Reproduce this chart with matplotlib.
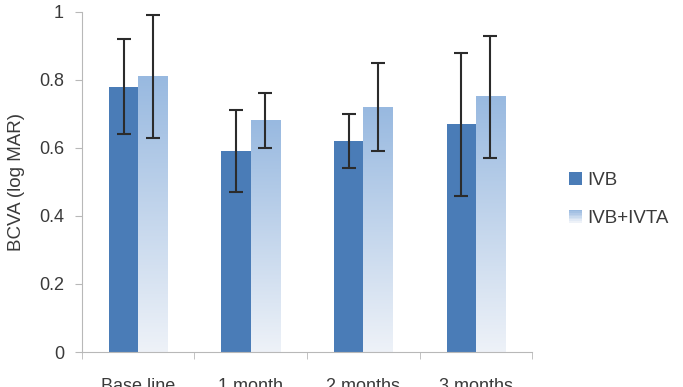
import numpy as np
import matplotlib
matplotlib.use("Agg")
import matplotlib.pyplot as plt
from matplotlib.colors import LinearSegmentedColormap
from matplotlib.patches import Rectangle
from matplotlib.legend_handler import HandlerBase

plt.rcParams['font.family'] = ['Liberation Sans', 'DejaVu Sans']

# Data
categories = ["Base line", "1 month", "2 months", "3 months"]
ivb = [0.78, 0.59, 0.62, 0.67]
ivb_err = [0.14, 0.12, 0.08, 0.21]
ivb_ivta = [0.81, 0.68, 0.72, 0.75]
ivb_ivta_err = [0.18, 0.08, 0.13, 0.18]

DARK = "#4a7cb7"
LIGHT_TOP = "#98b9e0"
LIGHT_BOTTOM = "#eef2f8"
TEXT = "#3a3a3a"
AXIS = "#b8b8b8"

grad_cmap = LinearSegmentedColormap.from_list("fade", [LIGHT_BOTTOM, LIGHT_TOP])
gradient = np.linspace(0, 1, 256).reshape(-1, 1)

fig = plt.figure(figsize=(6.83, 3.87), dpi=100)
ax = fig.add_axes([0.12, 0.0904, 0.659, 0.879])

x = np.arange(len(categories))
w = 0.26

ax.bar(x - w / 2, ivb, w, color=DARK, zorder=2)
light_bars = ax.bar(x + w / 2, ivb_ivta, w, color="none", zorder=2)

# paint the fading fill into each light bar
for bar in light_bars:
    bx, by = bar.get_x(), bar.get_y()
    bw, bh = bar.get_width(), bar.get_height()
    ax.imshow(gradient, cmap=grad_cmap, origin="lower", aspect="auto",
              extent=[bx, bx + bw, by, by + bh], zorder=2)

ax.errorbar(x - w / 2, ivb, yerr=ivb_err, fmt="none", ecolor="#2b2b2b",
            elinewidth=1.5, capsize=5, capthick=1.5, zorder=3)
ax.errorbar(x + w / 2, ivb_ivta, yerr=ivb_ivta_err, fmt="none", ecolor="#2b2b2b",
            elinewidth=1.5, capsize=5, capthick=1.5, zorder=3)

ax.set_xlim(-0.5, len(categories) - 0.5)
ax.set_ylim(0, 1)
ax.set_yticks([0, 0.2, 0.4, 0.6, 0.8, 1.0])
ax.set_yticklabels(["0", "0.2", "0.4", "0.6", "0.8", "1"])
ax.set_xticks(x)
ax.set_xticklabels(categories)
ax.set_xticks(np.arange(len(categories) + 1) - 0.5, minor=True)
ax.tick_params(axis="x", which="major", length=0, pad=19, labelsize=13, colors=TEXT)
ax.tick_params(axis="x", which="minor", length=5, direction="out", color=AXIS)
ax.tick_params(axis="y", length=5, color=AXIS, labelsize=13, labelcolor=TEXT, pad=8)

for side in ["top", "right"]:
    ax.spines[side].set_visible(False)
ax.spines["left"].set_color(AXIS)
ax.spines["bottom"].set_color(AXIS)

ax.set_ylabel("BCVA (log MAR)", fontsize=13.5, color=TEXT, labelpad=10)


class GradientHandler(HandlerBase):
    def create_artists(self, legend, orig_handle, xdescent, ydescent, width, height, fontsize, trans):
        s = height
        x0 = xdescent + width - s
        y0 = -ydescent + (height - s) / 2
        n = 8
        arts = []
        for i in range(n):
            c = grad_cmap(1 - i / (n - 1))
            arts.append(Rectangle((x0, y0 + s - (i + 1) * s / n), s, s / n,
                                  facecolor=c, edgecolor="none", transform=trans))
        return arts


dark_handle = Rectangle((0, 0), 1, 1, facecolor=DARK)
light_handle = Rectangle((0, 0), 1, 1, facecolor=LIGHT_TOP)
leg = fig.legend([dark_handle, light_handle], ["IVB", "IVB+IVTA"],
                 loc="center left", bbox_to_anchor=(0.808, 0.485), frameon=False,
                 fontsize=13.5, handlelength=0.7, handleheight=0.7,
                 handletextpad=0.3, labelspacing=1.1,
                 handler_map={light_handle: GradientHandler()})
for t in leg.get_texts():
    t.set_color(TEXT)

fig.savefig("out.png", dpi=100)
